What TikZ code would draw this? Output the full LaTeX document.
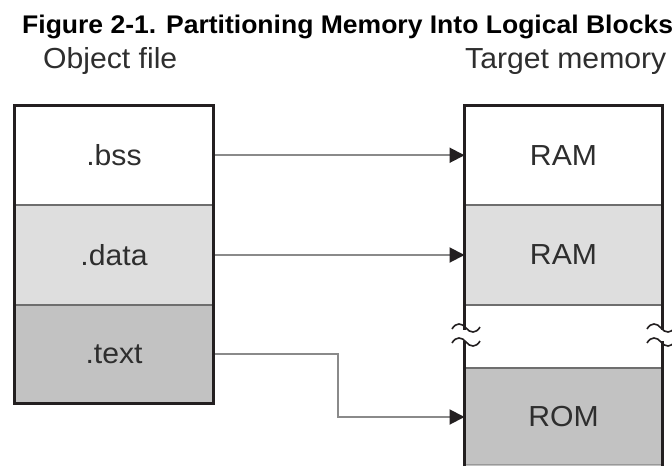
\documentclass[tikz,border=0pt]{standalone}
\usepackage{fontspec}
\setmainfont{Liberation Sans}
\usetikzlibrary{arrows.meta,calc}
\definecolor{bordercol}{HTML}{231F20}
\definecolor{divcol}{HTML}{6E6E6E}
\definecolor{arrcol}{HTML}{8A8A8A}
\definecolor{lightfill}{HTML}{DEDEDE}
\definecolor{darkfill}{HTML}{C2C2C2}
\definecolor{labcol}{HTML}{2E2E2E}
\tikzset{
  lefcell/.style={minimum width=199pt, inner sep=0pt, outer sep=0pt, text=labcol,
    font=\fontsize{29}{32}\selectfont},
  rigcell/.style={minimum width=198pt, inner sep=0pt, outer sep=0pt, text=labcol,
    font=\fontsize{29}{32}\selectfont},
  outer/.style={draw=bordercol, line width=3pt},
  divider/.style={draw=divcol, line width=2pt},
  link/.style={draw=arrcol, line width=2pt, -{Triangle[length=15pt,width=15pt,color=bordercol]}},
  heading/.style={inner sep=0pt, anchor=base west, text=labcol, font=\fontsize{29}{32}\selectfont},
  brk/.style={draw=bordercol, line width=1.6pt}
}
\newcommand{\lab}[1]{\scalebox{1.04}[1]{#1}}
\begin{document}
\begin{tikzpicture}[x=1pt,y=-1pt]
\useasboundingbox (0,0) rectangle (672,466);
\fill[white] (0,0) rectangle (672,466);
% title
\node[inner sep=0pt, anchor=base west, font=\fontsize{25.5}{28}\selectfont\bfseries] (title) at (22,33)
  {\scalebox{1.04}[1]{Figure 2-1. Partitioning Memory Into Logical Blocks}};
\node[heading] (objlab) at (43,68) {\lab{Object file}};
\node[heading] (tgtlab) at (465,68) {\lab{Target memory}};
% left cells
\node[lefcell, fill=white, minimum height=99.5pt] (bss) at (114,155.25) {\lab{.bss}};
\node[lefcell, fill=lightfill, minimum height=100pt] (data) at (114,255) {\lab{.data}};
\node[lefcell, fill=darkfill, minimum height=98.5pt] (text) at (114,354.25) {\lab{.text}};
% right cells
\node[rigcell, fill=white, minimum height=99.5pt] (ram1) at (563.5,155.25) {\lab{RAM}};
\node[rigcell, fill=lightfill, minimum height=100pt] (ram2) at (563.5,255) {\lab{RAM}};
\node[rigcell, fill=white, minimum height=63pt] (gap) at (563.5,336.5) {};
\node[rigcell, fill=darkfill, minimum height=98pt] (rom) at (563.5,417) {\lab{ROM}};
% connectors
\coordinate (jog) at (338,0);
\draw[link] (bss.east) -- (ram1.west);
\draw[link] (data.east) -- (ram2.west);
\draw[link] (text.east) -- (text.east -| jog) |- (rom.west);
% dividers
\draw[divider] (bss.south west) -- (bss.south east);
\draw[divider] (data.south west) -- (data.south east);
\draw[divider] (ram1.south west) -- (ram1.south east);
\draw[divider] (ram2.south west) -- (ram2.south east);
\draw[divider] (gap.south west) -- (gap.south east);
\draw[divider, line width=1.2pt, draw=divcol!70] (464.5,464.5) -- (662.5,464.5);
% outer borders
\draw[outer] (bss.north west) rectangle (text.south east);
\draw[outer] (rom.south west) |- (ram1.north east) -- (rom.south east);
% break marks
\fill[white] (460,329.5) rectangle (469,340.5);
\fill[white] (658,329.5) rectangle (667,340.5);
\foreach \cx/\cy in {466/328, 466/342, 661/328, 661/342}{
  \draw[brk] (\cx-14,\cy+1) .. controls (\cx-10,\cy-6) and (\cx-4,\cy-5) .. (\cx,\cy)
     .. controls (\cx+4,\cy+5) and (\cx+10,\cy+6) .. (\cx+14,\cy-1);
}
\end{tikzpicture}
\end{document}
